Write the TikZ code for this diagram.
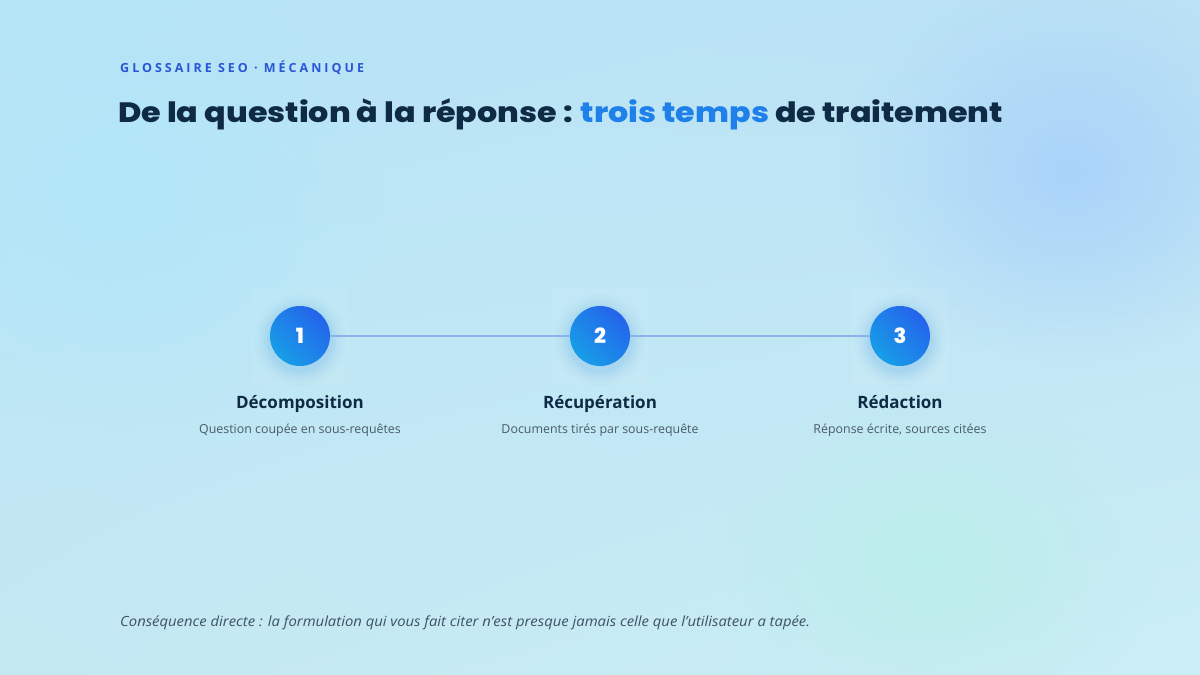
\documentclass[tikz,border=0pt]{standalone}
\usepackage{fontspec}
\setmainfont{Open Sans}
\newfontfamily\titlefontx{Poppins}[UprightFont=* ExtraBold]
\usetikzlibrary{shadings,fadings}
\tikzfading[name=blobfade, inner color=transparent!0, outer color=transparent!100]
\definecolor{bgTL}{HTML}{B6E4F7}
\definecolor{bgTR}{HTML}{BCE2F4}
\definecolor{bgBL}{HTML}{C4E8F2}
\definecolor{bgBR}{HTML}{CBEEF6}
\definecolor{blobBlue}{HTML}{A8D2FA}
\definecolor{blobMint}{HTML}{B8EEE8}
\definecolor{blobCyan}{HTML}{B0E6FA}
\definecolor{navy}{HTML}{0F2A44}
\definecolor{accent}{HTML}{1E80E8}
\definecolor{kicker}{HTML}{2A55D6}
\definecolor{subtxt}{HTML}{4A5B6B}
\definecolor{linkc}{HTML}{8CB2EA}
\definecolor{cA}{HTML}{179EE8}
\definecolor{cB}{HTML}{2563EB}
\definecolor{glow}{HTML}{5AA8E8}
\tikzset{
  stepdisc/.style={circle, minimum size=60pt, inner sep=0pt, left color=cA, right color=cB, shading angle=135, text=white, font=\titlefontx\fontsize{21}{21}\selectfont},
  steptitle/.style={font=\bfseries\fontsize{17}{19}\selectfont, text=navy, inner sep=0pt},
  stepsub/.style={font=\fontsize{12.4}{14}\selectfont, text=subtxt, inner sep=0pt},
  linkline/.style={draw=linkc, line width=2pt},
}
\begin{document}
\begin{tikzpicture}[x=1pt,y=-1pt]
\useasboundingbox (0,0) rectangle (1200,675);
\shade[upper left=bgTL, upper right=bgTR, lower left=bgBL, lower right=bgBR] (0,0) rectangle (1200,675);
\fill[blobBlue, path fading=blobfade, opacity=0.95] (1070,170) ellipse (230 and 200);
\fill[blobMint, path fading=blobfade, opacity=0.8] (930,560) ellipse (230 and 170);
\fill[blobCyan, path fading=blobfade, opacity=0.8] (120,200) ellipse (260 and 230);
% kicker
\node[anchor=base west, inner sep=0pt, text=kicker, font=\bfseries\fontsize{12.5}{14}\selectfont] (kick) at (120,72)
  {\addfontfeatures{LetterSpace=24}GLOSSAIRE SEO · MÉCANIQUE};
% title
\node[anchor=base west, inner sep=0pt, text=navy, font=\titlefontx\fontsize{28}{32}\selectfont] (title) at (118,122)
  {\scalebox{1.135}[1]{De la question à la réponse : \textcolor{accent}{trois temps} de traitement}};
% steps
\foreach \x in {300,600,900}{
  \fill[white, opacity=0.05] (\x-48,288) rectangle (\x+48,384);
  \foreach \r/\o in {46/0.03,42/0.04,39/0.05,36/0.07,33/0.09}{
    \fill[glow, opacity=\o] (\x,340) circle (\r);
  }
}
\node[stepdisc] (s1) at (300,336) {1};
\node[stepdisc] (s2) at (600,336) {2};
\node[stepdisc] (s3) at (900,336) {3};
\path[linkline] (s1) -- (s2);
\path[linkline] (s2) -- (s3);
\node[steptitle, anchor=base] (t1) at (300,408) {Décomposition};
\node[steptitle, anchor=base] (t2) at (600,408) {Récupération};
\node[steptitle, anchor=base] (t3) at (900,408) {Rédaction};
\node[stepsub, anchor=base] (d1) at (300,433) {Question coupée en sous-requêtes};
\node[stepsub, anchor=base] (d2) at (600,433) {Documents tirés par sous-requête};
\node[stepsub, anchor=base] (d3) at (900,433) {Réponse écrite, sources citées};
% footer
\node[anchor=base west, inner sep=0pt, text=subtxt!80!navy, font=\itshape\fontsize{14}{16}\selectfont] (foot) at (120,626)
  {\scalebox{1.06}[1]{Conséquence directe : la formulation qui vous fait citer n'est presque jamais celle que l'utilisateur a tapée.}};
\end{tikzpicture}
\end{document}
